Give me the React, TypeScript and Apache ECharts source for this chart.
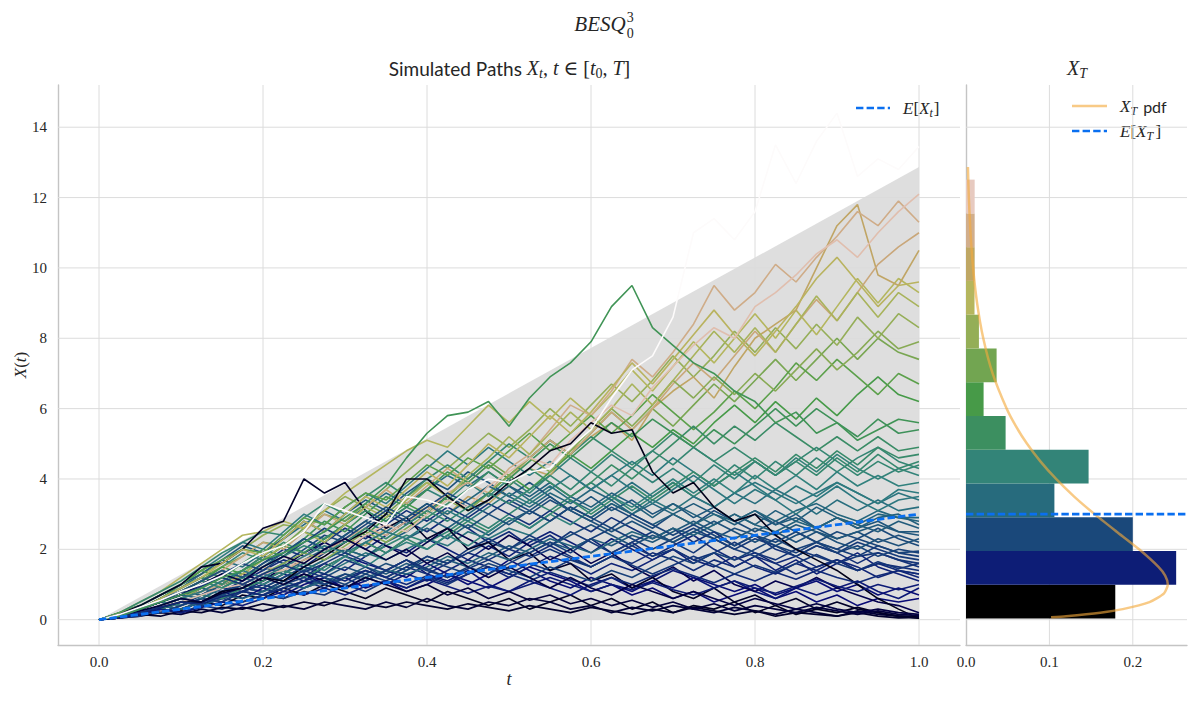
import React, { useEffect, useRef } from 'react';
import * as echarts from 'echarts';

// ---------- data ----------
const TIMES = [0,0.025,0.05,0.075,0.1,0.125,0.15,0.175,0.2,0.225,0.25,0.275,0.3,0.325,0.35,0.375,0.4,0.425,0.45,0.475,0.5,0.525,0.55,0.575,0.6,0.625,0.65,0.675,0.7,0.725,0.75,0.775,0.8,0.825,0.85,0.875,0.9,0.925,0.95,0.975,1];

const P_K1 = [0,0.1,0.2,0.4,0.3,0.5,0.4,0.7,0.6,0.9,0.7,1.0,0.8,0.6,0.9,0.7,0.5,0.8,0.6,0.4,0.6,0.3,0.5,0.7,0.4,0.6,0.3,0.5,0.2,0.4,0.3,0.5,0.2,0.4,0.15,0.3,0.2,0.35,0.2,0.1,0.04];
const P_K2 = [0,0.15,0.4,0.7,1.0,1.5,1.6,2.0,2.6,2.8,4.0,3.6,3.9,3.1,2.6,2.9,2.3,2.6,2.0,2.2,1.7,1.9,1.4,1.6,1.1,1.3,0.9,1.2,0.8,0.6,0.9,0.5,0.7,0.4,0.6,0.3,0.5,0.3,0.2,0.1,0.05];
const P_K3 = [0,0.05,0.2,0.35,0.5,0.5,0.8,0.9,1.2,1.1,1.5,1.8,2.2,2.5,3.0,4.0,4.0,3.5,3.1,3.4,3.9,4.3,4.8,5.0,5.6,5.3,5.4,4.2,3.6,3.9,3.2,2.8,3.0,2.4,2.0,1.7,1.4,1.0,0.6,0.3,0.03];
const P_K4 = [0,0.05,0.2,0.3,0.5,0.4,0.7,0.9,0.8,1.1,1.3,1.0,1.2,0.9,1.1,0.8,1.0,1.3,1.1,0.9,1.2,1.5,1.3,1.1,0.8,1.0,0.7,0.9,0.6,0.8,0.5,0.7,0.9,0.6,0.8,0.5,0.7,0.4,0.6,0.5,0.6];
const P_K5 = [0,0.1,0.3,0.2,0.4,0.6,0.5,0.8,1.0,1.3,1.1,1.5,1.8,1.6,1.4,1.7,1.3,1.1,1.4,1.0,0.8,1.1,0.9,0.7,1.0,1.2,0.9,1.1,1.4,1.2,0.9,1.1,0.8,0.6,0.9,0.7,0.9,1.1,0.8,0.6,0.9];
const P_K6 = [0,0.05,0.1,0.2,0.15,0.3,0.2,0.35,0.25,0.4,0.3,0.5,0.4,0.3,0.5,0.35,0.6,0.4,0.3,0.5,0.4,0.6,0.5,0.3,0.4,0.2,0.35,0.25,0.4,0.3,0.2,0.35,0.25,0.15,0.3,0.2,0.1,0.25,0.15,0.1,0.1];
const P_K7 = [0,0.1,0.3,0.5,0.8,0.7,1.0,1.3,1.1,1.5,1.9,2.2,1.9,2.4,2.1,1.8,2.2,2.6,2.3,2.0,2.4,2.1,1.7,2.0,1.6,1.9,1.5,1.2,1.5,1.1,1.4,1.0,0.8,1.1,0.9,1.2,0.9,0.7,0.5,0.4,0.2];
const P_K8 = [0,0.1,0.2,0.4,0.6,0.5,0.8,0.6,0.9,0.7,1.0,1.2,0.9,1.1,1.4,1.2,1.6,1.3,1.0,1.3,1.7,1.4,1.1,0.9,1.2,1.0,0.8,1.1,0.9,1.2,1.0,0.8,1.0,0.7,0.9,1.1,0.8,1.0,0.7,0.9,0.7];
const P_K9 = [0,0.05,0.15,0.1,0.25,0.2,0.35,0.3,0.45,0.35,0.5,0.4,0.6,0.45,0.35,0.5,0.4,0.3,0.45,0.35,0.25,0.4,0.3,0.2,0.35,0.25,0.15,0.3,0.2,0.35,0.25,0.15,0.25,0.1,0.2,0.15,0.1,0.2,0.1,0.05,0.06];
const P_K10 = [0,0.1,0.25,0.4,0.6,0.5,0.75,0.9,1.2,1.0,1.3,1.1,0.9,1.2,1.0,0.8,1.0,0.7,0.9,0.6,0.8,0.55,0.7,0.45,0.6,0.4,0.55,0.35,0.5,0.3,0.45,0.25,0.4,0.3,0.2,0.35,0.25,0.15,0.25,0.15,0.12];
const P_K11 = [0,0.1,0.3,0.5,0.7,1.0,1.3,1.1,1.5,1.8,1.6,2.0,2.3,2.0,1.7,2.0,1.6,1.9,1.5,1.2,1.5,1.2,0.9,1.2,0.9,0.7,1.0,0.8,0.6,0.8,0.6,0.4,0.6,0.45,0.3,0.45,0.3,0.2,0.3,0.2,0.15];

const P_N1 = [0,0.1,0.3,0.5,0.4,0.7,0.9,0.8,1.1,1.4,1.2,1.6,1.4,1.8,2.1,1.9,2.3,2.0,1.7,2.1,1.8,2.2,2.5,2.2,1.9,2.3,2.0,1.7,2.0,1.6,1.9,1.5,1.8,1.4,1.7,1.3,1.6,1.9,1.5,1.3,1.1];
const P_N2 = [0,0.05,0.2,0.3,0.2,0.4,0.6,0.5,0.7,0.6,0.9,1.1,0.9,1.2,1.0,1.3,1.1,1.4,1.7,1.5,1.2,1.5,1.8,1.6,1.3,1.6,1.4,1.7,2.0,1.7,1.5,1.8,1.5,1.3,1.6,1.4,1.7,1.5,1.2,1.4,1.2];
const P_N3 = [0,0.1,0.2,0.4,0.6,0.9,0.8,1.1,1.4,1.7,1.5,1.9,2.3,2.0,2.4,2.8,2.5,2.9,2.6,2.2,2.5,2.1,2.4,2.0,2.3,1.9,2.2,1.8,2.1,2.4,2.0,1.7,1.9,1.6,1.8,1.5,1.7,1.4,1.6,1.4,1.3];
const P_N4 = [0,0.1,0.2,0.3,0.5,0.7,0.6,0.8,1.0,0.8,1.1,0.9,1.2,1.4,1.2,1.5,1.3,1.6,1.9,1.7,2.0,1.8,2.1,1.8,1.5,1.8,1.6,1.9,1.7,1.4,1.7,1.5,1.8,1.6,1.3,1.5,1.7,1.4,1.6,1.5,1.4];
const P_N5 = [0,0.1,0.3,0.6,0.8,1.1,1.4,1.2,1.6,2.0,1.8,2.2,2.6,2.3,2.7,3.1,2.8,3.2,2.9,3.3,3.0,2.7,3.1,2.8,2.5,2.9,2.6,2.3,2.6,2.2,2.5,2.1,2.4,2.0,1.8,2.1,1.9,1.6,1.9,1.7,1.5];
const P_N6 = [0,0.05,0.1,0.3,0.2,0.4,0.3,0.5,0.7,0.6,0.8,0.7,1.0,0.8,1.1,0.9,1.2,1.0,1.3,1.5,1.3,1.6,1.4,1.7,1.5,1.8,2.1,1.8,2.0,1.7,1.9,2.2,1.9,1.7,2.0,1.8,1.6,1.8,1.9,1.7,1.6];
const P_N7 = [0,0.1,0.2,0.4,0.3,0.5,0.8,1.0,0.9,1.2,1.5,1.3,1.7,1.5,1.2,1.5,1.8,1.6,2.0,2.3,2.0,2.4,2.1,2.5,2.2,1.9,2.2,2.5,2.2,1.9,2.3,2.0,2.3,2.1,1.8,2.1,1.9,2.2,2.0,1.8,1.7];
const P_N8 = [0,0.1,0.3,0.2,0.4,0.6,0.5,0.8,0.7,1.0,1.2,1.0,1.3,1.1,1.4,1.7,1.4,1.2,1.5,1.3,1.6,1.9,2.2,1.9,2.3,2.6,2.3,2.0,2.3,2.6,2.3,2.0,1.8,2.1,1.9,2.2,2.0,1.8,2.1,1.9,1.8];
const P_N9 = [0,0.1,0.2,0.4,0.6,0.5,0.7,1.0,1.3,1.1,1.4,1.2,1.0,1.3,1.1,1.4,1.7,1.5,1.3,1.6,1.4,1.2,1.5,1.3,1.1,1.4,1.2,1.5,1.8,1.6,1.9,1.7,2.0,2.3,2.0,2.2,1.9,2.1,1.8,2.0,1.9];
const P_N10 = [0,0.1,0.3,0.5,0.7,1.0,1.3,1.6,1.4,1.8,2.2,2.6,2.3,2.7,3.1,2.8,3.2,3.6,3.3,3.0,3.4,3.1,2.8,3.2,2.9,2.6,3.0,2.7,2.4,2.7,2.4,2.1,2.4,2.2,2.5,2.2,2.0,2.3,2.1,1.9,1.95];
const P_N11 = [0,0.05,0.15,0.3,0.2,0.35,0.5,0.4,0.6,0.8,0.7,0.9,0.7,0.95,1.1,0.9,1.15,0.95,0.75,0.95,0.8,1.0,1.2,1.0,0.8,1.0,0.85,1.05,0.85,0.7,0.9,1.1,0.9,0.75,0.95,1.15,0.95,0.8,1.0,0.85,1.0];
const P_N12 = [0,0.1,0.2,0.35,0.5,0.45,0.65,0.8,0.7,0.9,1.1,1.3,1.1,1.4,1.2,1.0,1.25,1.05,1.3,1.5,1.3,1.1,1.35,1.15,0.95,1.2,1.0,1.25,1.45,1.25,1.05,1.3,1.1,1.35,1.15,1.4,1.2,1.05,1.25,1.4,1.3];
const P_N13 = [0,0.1,0.3,0.5,0.7,0.95,1.2,1.0,1.3,1.55,1.35,1.6,1.9,1.65,1.4,1.7,1.45,1.2,1.45,1.7,1.45,1.75,2.0,1.75,1.5,1.8,1.55,1.3,1.55,1.8,1.55,1.3,1.55,1.35,1.6,1.85,1.6,1.4,1.65,1.45,1.6];

const P_D1 = [0,0.1,0.3,0.6,0.9,1.2,1.0,1.4,1.8,1.6,2.0,2.4,2.2,2.6,3.0,2.7,3.1,3.5,3.2,3.6,3.3,3.0,3.4,3.1,2.8,3.2,2.9,2.6,3.0,2.7,3.1,2.8,2.5,2.8,2.5,2.2,2.5,2.3,2.6,2.3,2.1];
const P_D2 = [0,0.1,0.2,0.4,0.3,0.5,0.7,0.9,0.8,1.1,0.9,1.2,1.5,1.3,1.6,1.4,1.8,1.6,1.9,2.2,2.0,2.3,2.1,2.4,2.7,2.4,2.1,2.4,2.2,2.5,2.3,2.6,2.4,2.1,2.4,2.6,2.3,2.5,2.2,2.4,2.2];
const P_D3 = [0,0.2,0.4,0.7,1.0,1.3,1.7,2.1,1.9,2.3,2.8,2.5,3.0,3.4,3.1,3.6,4.0,3.7,4.2,3.9,3.5,3.9,3.5,3.1,3.5,3.1,3.4,3.0,3.3,2.9,3.2,2.8,3.1,2.7,3.0,2.6,2.9,2.6,2.8,2.5,2.4];
const P_D4 = [0,0.1,0.2,0.3,0.5,0.4,0.6,0.8,0.7,0.9,1.1,1.0,1.2,1.5,1.3,1.6,1.4,1.7,1.5,1.8,2.1,1.9,2.2,2.0,2.3,2.1,2.4,2.2,2.5,2.8,2.5,2.3,2.6,2.4,2.7,2.5,2.3,2.5,2.7,2.5,2.5];
const P_D5 = [0,0.1,0.3,0.5,0.8,0.7,1.0,1.2,1.5,1.3,1.7,2.0,1.8,2.2,1.9,2.3,2.6,2.3,2.7,2.4,2.8,3.1,2.8,3.2,2.9,3.3,3.0,2.7,3.0,3.3,3.0,2.7,3.0,2.7,2.9,2.6,2.9,2.7,2.5,2.8,2.6];
const P_D6 = [0,0.1,0.2,0.4,0.6,0.9,0.7,1.0,1.3,1.1,1.4,1.7,2.0,1.8,2.2,2.5,2.9,2.6,3.0,3.4,3.8,3.5,3.9,3.5,3.2,3.6,3.3,2.9,3.3,3.0,2.7,3.0,2.7,3.1,2.8,3.2,2.9,2.6,2.9,3.0,2.7];
const P_D7 = [0,0.1,0.2,0.4,0.3,0.5,0.7,0.6,0.8,1.0,0.9,1.1,1.3,1.2,1.4,1.3,1.5,1.8,1.6,1.9,1.7,2.0,2.3,2.1,1.9,2.2,2.5,2.3,2.6,2.4,2.7,3.0,2.7,2.5,2.8,2.6,2.9,2.7,3.0,2.9,2.8];
const P_D8 = [0,0.1,0.3,0.5,0.7,0.6,0.9,1.2,1.5,1.9,2.3,2.0,2.4,2.8,2.5,2.9,3.3,3.0,3.4,3.8,3.5,3.2,3.6,3.3,3.7,3.4,3.0,3.3,3.0,2.7,3.0,2.8,3.1,2.8,3.1,3.3,3.0,2.8,3.1,2.9,2.9];
const P_D9 = [0,0.1,0.3,0.5,0.8,1.1,1.4,1.2,1.6,1.9,2.3,2.0,2.4,2.8,3.2,2.9,3.3,2.9,2.6,3.0,2.7,3.1,3.5,3.1,2.8,2.5,2.8,2.5,2.2,2.5,2.8,2.5,2.2,2.5,2.2,2.5,2.2,2.0,2.3,2.1,2.3];

const P_T1 = [0,0.1,0.3,0.6,0.9,1.3,1.7,1.5,1.9,2.3,2.7,3.1,2.8,3.2,3.6,3.3,3.7,4.1,3.8,4.2,3.8,3.4,3.8,3.4,3.1,3.5,3.9,3.5,3.9,3.5,3.2,3.6,3.3,3.7,3.4,3.0,3.4,3.1,3.4,3.1,3.2];
const P_T2 = [0,0.1,0.2,0.4,0.6,0.5,0.8,1.0,0.9,1.2,1.5,1.3,1.6,1.9,1.7,2.0,2.3,2.1,2.5,2.3,2.6,2.4,2.8,3.2,2.9,3.3,3.0,3.4,3.1,3.5,3.2,3.6,3.9,3.6,3.3,3.6,3.9,3.6,3.3,3.6,3.4];
const P_T3 = [0,0.2,0.4,0.7,1.0,1.4,1.8,2.2,2.0,2.5,3.0,2.7,3.2,3.6,3.3,3.8,4.3,4.8,4.4,4.9,4.5,4.1,4.5,4.1,3.7,4.1,4.5,4.1,4.6,4.2,3.8,4.2,3.8,3.4,3.8,3.5,3.9,3.6,3.3,3.7,3.6];
const P_T4 = [0,0.1,0.3,0.5,0.4,0.6,0.9,1.2,1.0,1.3,1.6,1.4,1.8,1.5,1.9,2.2,2.0,2.4,2.1,2.5,2.9,2.6,3.0,2.7,3.1,3.5,3.2,3.6,4.0,3.6,4.0,3.6,4.1,3.7,4.1,3.7,4.2,3.8,4.1,3.8,3.9];
const P_T5 = [0,0.1,0.2,0.4,0.6,0.8,1.1,1.4,1.2,1.5,1.8,2.1,1.9,2.2,2.5,2.3,2.7,3.1,2.8,3.2,3.6,3.3,3.7,4.1,3.7,4.1,3.7,3.3,3.7,4.1,3.7,3.3,3.7,3.4,3.0,3.4,3.8,3.4,3.1,3.4,3.5];

const P_G1 = [0,0.1,0.3,0.5,0.8,1.1,1.5,1.9,1.7,2.1,2.5,2.3,2.7,3.1,2.8,3.2,3.7,3.4,3.9,3.5,4.0,3.6,4.1,4.6,4.2,4.7,4.3,3.9,4.3,3.9,4.4,4.0,4.5,4.1,4.6,4.2,4.7,4.3,4.0,4.3,4.1];
const P_G2 = [0,0.1,0.2,0.4,0.6,0.8,1.1,1.0,1.3,1.6,1.4,1.7,2.0,1.8,2.1,2.4,2.2,2.5,2.9,2.6,3.0,3.4,3.1,3.5,3.9,3.5,3.1,3.5,3.9,3.5,3.9,4.4,4.0,4.5,4.1,4.6,4.2,4.6,4.9,4.5,4.3];
const P_G3 = [0,0.2,0.5,0.8,1.1,1.5,1.9,2.2,2.5,2.4,2.9,3.3,3.0,3.5,3.9,3.5,4.0,4.4,4.0,4.5,5.0,4.6,5.1,4.7,5.2,4.8,4.4,4.8,5.3,4.9,4.5,4.9,4.5,4.1,4.5,4.1,4.6,4.2,4.7,4.3,4.5];
const P_G4 = [0,0.1,0.2,0.3,0.5,0.7,0.6,0.9,1.1,1.4,1.2,1.5,1.8,2.2,1.9,2.3,2.0,2.4,2.8,2.5,2.9,2.6,3.0,3.4,3.0,3.4,3.8,3.4,3.8,4.2,3.8,4.2,4.6,4.2,4.7,4.3,4.8,4.4,4.9,4.6,4.7];
const P_G5 = [0,0.1,0.3,0.6,0.9,1.2,1.0,1.4,1.8,2.2,1.9,2.3,2.7,3.1,2.8,3.2,2.9,3.3,3.7,4.2,3.8,4.3,3.9,3.5,3.9,4.4,4.0,4.5,5.0,5.5,5.0,5.5,5.1,5.6,5.2,4.8,5.2,4.8,5.2,4.8,4.9];
const P_G6 = [0,0.1,0.3,0.5,0.8,1.1,0.9,1.2,1.5,1.8,2.1,1.9,2.2,2.6,2.3,2.7,3.1,2.8,3.2,3.6,3.3,3.7,4.1,3.7,4.2,3.8,4.3,4.8,4.4,4.9,4.5,4.1,4.5,4.1,4.5,4.9,4.5,4.1,4.5,4.2,4.4];
const P_GPK = [0,0.1,0.3,0.5,0.7,0.9,1.2,1.4,1.7,1.9,2.2,2.5,2.9,3.3,3.8,4.6,5.3,5.8,5.9,6.2,5.5,6.3,6.9,7.3,7.9,8.9,9.5,8.3,7.8,7.3,7.0,6.5,6.2,5.6,5.9,5.3,5.6,5.1,5.4,5.7,5.6];
const P_GB = [0,0.1,0.3,0.6,1.0,1.4,1.2,1.6,2.0,1.8,2.3,2.8,2.5,3.0,3.5,3.2,3.7,4.2,3.9,4.4,4.0,4.5,5.0,4.6,5.1,5.6,5.2,5.7,5.3,4.9,5.4,5.0,5.5,6.0,5.5,6.0,5.6,5.2,5.7,5.3,5.4];
const P_BG1 = [0,0.1,0.3,0.5,0.8,1.1,1.5,1.3,1.7,2.1,1.9,2.3,2.7,2.4,2.9,3.3,3.0,3.5,3.1,3.6,4.1,3.7,4.2,4.7,4.3,4.8,5.3,4.9,5.4,5.0,5.6,6.1,5.6,6.2,5.7,6.3,5.8,6.4,6.9,6.4,6.2];
const P_BG2 = [0,0.2,0.4,0.7,1.0,1.4,1.7,2.0,1.9,2.4,2.9,2.7,3.2,3.6,3.4,3.9,4.4,4.1,4.6,4.3,4.8,5.3,4.8,5.3,5.8,5.3,5.8,6.4,5.9,5.4,5.9,6.5,6.0,6.6,7.3,6.8,7.4,6.9,6.4,7.0,6.7];
const P_YG1 = [0,0.1,0.3,0.6,0.9,1.2,1.5,1.8,2.2,2.1,2.6,3.0,2.8,3.3,3.0,3.5,3.9,3.5,4.0,4.5,4.1,4.6,5.1,4.7,5.3,5.9,5.4,6.0,5.5,6.1,6.7,6.2,6.8,7.4,6.8,7.4,8.0,7.4,8.0,7.6,7.4];
const P_YG2 = [0,0.1,0.2,0.4,0.6,0.9,1.2,1.0,1.3,1.6,1.9,1.7,2.1,2.5,2.2,2.6,3.0,3.4,3.1,3.6,4.1,4.6,4.2,4.8,5.4,6.0,5.5,6.1,6.8,6.3,6.9,6.4,7.0,6.5,7.1,7.7,7.1,7.6,8.2,7.7,7.9];
const P_O1 = [0,0.2,0.4,0.7,1.0,1.3,1.6,2.0,2.4,2.7,2.6,3.1,3.5,3.2,3.7,4.2,4.7,4.3,4.8,5.3,4.9,5.4,6.0,5.5,6.1,6.7,6.2,6.8,7.5,6.9,7.5,8.2,7.6,8.3,7.7,8.4,7.8,8.6,8.0,8.7,8.3];
const P_O2 = [0,0.1,0.3,0.5,0.8,1.1,0.9,1.3,1.7,2.1,2.5,2.2,2.7,3.2,2.9,3.4,3.9,3.5,4.1,4.6,5.2,4.7,5.3,5.9,5.4,6.0,6.7,6.1,6.8,7.5,8.2,7.6,8.3,7.6,8.4,9.2,8.5,9.3,8.6,9.3,8.9];
const P_KH1 = [0,0.2,0.5,0.8,1.2,1.6,2.0,2.4,2.5,2.8,2.6,3.1,3.6,4.0,4.4,4.8,5.1,4.9,5.5,6.1,5.6,6.2,5.7,6.3,5.8,6.4,7.1,6.5,7.2,7.9,7.3,8.0,8.7,8.0,8.8,8.1,8.9,9.7,9.0,9.7,9.3];
const P_KH2 = [0,0.1,0.3,0.6,0.9,1.2,1.6,2.0,1.8,2.3,2.8,2.5,3.0,3.5,3.2,3.7,4.2,3.8,4.4,5.0,4.6,5.2,5.8,5.3,5.9,6.6,7.3,6.7,7.4,8.1,8.8,8.1,7.5,8.2,8.9,9.7,10.3,9.6,8.9,9.5,9.6];
const P_TAN = [0,0.1,0.3,0.5,0.7,0.8,1.1,1.2,1.5,1.8,1.6,2.0,2.3,2.1,2.6,2.9,3.2,3.0,3.5,3.3,3.8,4.3,4.1,4.8,5.2,5.6,5.1,6.0,6.5,6.9,6.3,7.2,8.0,8.4,8.8,10.0,11.2,11.8,9.8,9.5,10.5];
const P_PINKD = [0,0.1,0.3,0.5,0.8,1.1,1.4,1.8,2.2,2.0,2.5,3.0,2.7,3.2,3.7,3.3,3.8,4.3,3.9,4.4,4.0,4.6,5.1,4.7,5.3,5.9,5.4,6.0,6.7,7.3,6.8,7.5,8.2,7.6,8.4,9.1,8.5,9.3,10.1,10.6,11.0];
const P_ORANGE = [0,0.1,0.2,0.4,0.6,0.8,1.0,1.3,1.5,1.4,1.7,1.9,2.3,2.6,2.4,2.8,3.1,3.6,3.9,3.6,4.3,4.7,5.4,6.1,5.8,6.5,7.4,6.9,7.6,8.4,9.5,8.8,9.3,10.1,9.6,10.3,10.9,11.6,11.2,11.9,11.3];
const P_PINKB = [0,0.05,0.2,0.4,0.5,0.7,0.9,1.0,1.3,1.4,1.8,2.1,2.0,2.4,2.7,2.5,3.0,3.4,3.2,3.8,4.2,4.6,4.4,5.1,5.6,6.1,5.8,6.6,7.2,7.8,8.3,8.0,8.9,9.3,9.8,10.4,10.8,10.3,11.0,11.6,12.1];
const P_WHITE = [0,0.15,0.35,0.55,0.8,1.0,1.25,1.6,1.9,2.1,2.5,3.3,3.1,2.9,2.7,3.5,3.4,3.2,3.7,4.0,3.9,4.2,4.3,4.9,5.4,6.3,7.1,7.5,8.6,11.0,11.4,10.8,11.6,13.5,12.4,13.6,14.4,12.6,13.1,12.8,13.45];

const PATHS = [
  P_N1, P_G1, P_K4, P_D1, P_T1, P_N2, P_YG1, P_K1, P_D2, P_O1,
  P_N3, P_G2, P_K5, P_D3, P_KH1, P_N4, P_T2, P_TAN, P_K6, P_D4,
  P_BG1, P_N5, P_G3, P_PINKD, P_K7, P_D5, P_T3, P_N6, P_GB, P_ORANGE,
  P_K8, P_D6, P_BG2, P_N7, P_G4, P_YG2, P_K2, P_D7, P_T4, P_N8,
  P_G5, P_O2, P_KH2, P_N9, P_D8, P_PINKB, P_K3, P_N10, P_G6, P_K9,
  P_N11, P_D9, P_T5, P_K10, P_N12, P_K11, P_N13, P_GPK, P_WHITE,
];

const MEAN_T = [0, 1];
const MEAN_X = [0, 3];
const FINAL_MEAN = 3;
const BAND_T = [0, 1];
const BAND_UPPER = [0, 12.87];

const BIN_EDGES = [0.03, 0.99, 1.95, 2.91, 3.87, 4.83, 5.79, 6.75, 7.71, 8.67, 9.63, 10.59, 11.55, 12.51];
const BIN_DENSITY = [0.179, 0.252, 0.200, 0.106, 0.147, 0.0475, 0.0211, 0.0367, 0.0155, 0.0102, 0.0104, 0.0104, 0.0104];

const PDF_X = [0.07, 0.1, 0.2, 0.3, 0.5, 0.75, 1.0, 1.25, 1.5, 2.0, 2.5, 3.0, 3.5, 4.0, 4.5, 5.0, 5.5, 6.0, 7.0, 8.0, 9.0, 10.0, 11.0, 12.0, 12.87];
const PDF_D = [0.102, 0.120, 0.161, 0.188, 0.220, 0.2375, 0.242, 0.2388, 0.2308, 0.2076, 0.1807, 0.1542, 0.1297, 0.108, 0.0892, 0.0732, 0.0598, 0.0487, 0.0319, 0.0207, 0.0133, 0.0085, 0.0054, 0.0034, 0.0023];

const X_TICKS = [0, 0.2, 0.4, 0.6, 0.8, 1.0];
const XR_TICKS = [0, 0.1, 0.2];
const Y_TICKS = [0, 2, 4, 6, 8, 10, 12, 14];

const X_MIN = -0.05, X_MAX = 1.05;
const XR_MIN = 0, XR_MAX = 0.265;
const Y_MIN = -0.72, Y_MAX = 15.2;

// ---------- style ----------
const SERIF = "'Liberation Serif', 'DejaVu Serif', serif";
const SANS = "Lato, 'Noto Sans', sans-serif";
const TXT = '#262626';
const BLUE = '#0a6ff0';
const GRIDC = '#dcdcdc';
const SPINE = '#c4c4c4';
const DASH = [7.4, 3.2];
const PDF_COLOR = 'rgba(243,170,60,0.62)';

// gist_earth colormap segments
const CM_R = [[0,0],[0.2824,0.1882],[0.4588,0.2714],[0.549,0.4719],[0.698,0.7176],[0.7882,0.7553],[1,0.9922]];
const CM_G = [[0,0],[0.0275,0],[0.1098,0.1893],[0.1647,0.3035],[0.2078,0.3841],[0.2824,0.502],[0.5216,0.6397],[0.698,0.7171],[0.7882,0.6392],[0.7922,0.6413],[0.8,0.6447],[0.8078,0.6481],[0.8157,0.6549],[0.8667,0.6991],[0.8745,0.7103],[0.8824,0.7216],[0.8902,0.7323],[0.898,0.743],[0.9412,0.8275],[0.9569,0.8635],[0.9647,0.8816],[0.9961,0.9733],[1,0.9843]];
const CM_B = [[0,0],[0.0039,0.1684],[0.0078,0.2212],[0.0275,0.4329],[0.0314,0.4549],[0.2824,0.5004],[0.4667,0.2748],[0.5451,0.3205],[0.7843,0.3961],[0.8941,0.6651],[1,0.9843]];

function interp(stops: number[][], v: number) {
  for (let i = 1; i < stops.length; i++) {
    if (v <= stops[i][0]) {
      const [x0, y0] = stops[i - 1];
      const [x1, y1] = stops[i];
      return y0 + ((y1 - y0) * (v - x0)) / (x1 - x0 || 1);
    }
  }
  return stops[stops.length - 1][1];
}
function gistEarth(v: number) {
  const c = Math.max(0, Math.min(1, v));
  const rgb = [CM_R, CM_G, CM_B].map((s) => Math.round(255 * interp(s, c)));
  return `rgb(${rgb.join(',')})`;
}

type Piece = { t: string; fam?: string; it?: boolean; s: number; dy?: number; dx?: number; stack?: boolean };

let measureCtx: CanvasRenderingContext2D | null = null;
function textWidth(t: string, font: string) {
  if (!measureCtx) measureCtx = document.createElement('canvas').getContext('2d');
  if (!measureCtx) return t.length * 8;
  measureCtx.font = font;
  return measureCtx.measureText(t).width;
}

function mathRow(pieces: Piece[], x: number, baseline: number, align: 'left' | 'center', extra: any = {}) {
  let cursor = 0;
  let prevStart = 0;
  const items = pieces.map((p) => {
    const font = `${p.it ? 'italic ' : ''}${p.s}px ${p.fam || SERIF}`;
    const w = textWidth(p.t, font);
    let px: number;
    if (p.stack) {
      px = prevStart;
      cursor = Math.max(cursor, prevStart + w);
    } else {
      cursor += p.dx || 0;
      px = cursor;
      prevStart = cursor;
      cursor += w;
    }
    return { p, font, px };
  });
  const off = align === 'center' ? -cursor / 2 : 0;
  return {
    type: 'group',
    x,
    y: baseline,
    silent: true,
    ...extra,
    children: items.map(({ p, font, px }) => ({
      type: 'text',
      x: off + px,
      y: (p.dy || 0) - 0.34 * p.s,
      style: { text: p.t, font, fill: TXT, align: 'left', verticalAlign: 'middle' },
    })),
  };
}

const near = (arr: number[], v: number) => arr.some((t) => Math.abs(t - v) < 1e-6);

function gridLine(axis: number, data: number[][]) {
  return {
    type: 'line', xAxisIndex: axis, yAxisIndex: axis, z: 1, silent: true, symbol: 'none',
    data, lineStyle: { color: GRIDC, width: 1 },
  };
}

export default function App() {
  const ref = useRef<HTMLDivElement>(null);

  useEffect(() => {
    document.body.style.margin = '0';
    if (!ref.current) return;
    const chart = echarts.init(ref.current, undefined, { renderer: 'svg' });

    const finals = PATHS.map((p) => p[p.length - 1]);
    const maxFinal = Math.max(...finals);

    const pathSeries = PATHS.map((p, k) => ({
      type: 'line',
      xAxisIndex: 0,
      yAxisIndex: 0,
      data: p.map((v, i) => [TIMES[i], v]).filter((d) => d[0] !== undefined),
      symbol: 'none',
      silent: true,
      z: 3,
      lineStyle: { width: 1.6, color: gistEarth(finals[k] / maxFinal) },
    }));

    const gridSeries = [
      ...X_TICKS.map((v) => gridLine(0, [[v, Y_MIN], [v, Y_MAX]])),
      ...Y_TICKS.map((v) => gridLine(0, [[X_MIN, v], [X_MAX, v]])),
      ...XR_TICKS.filter((v) => v > 0).map((v) => gridLine(1, [[v, Y_MIN], [v, Y_MAX]])),
      ...Y_TICKS.map((v) => gridLine(1, [[XR_MIN, v], [XR_MAX, v]])),
    ];

    const nb = BIN_DENSITY.length;
    const binColors = BIN_DENSITY.map((_, i) => gistEarth(i / nb));

    const axisLabelBase = { fontFamily: SERIF, fontSize: 15, color: TXT };

    const option: any = {
      animation: false,
      backgroundColor: '#ffffff',
      grid: [
        { left: 58, top: 85, width: 902, height: 560 },
        { left: 966, top: 85, width: 221, height: 560 },
      ],
      xAxis: [
        {
          type: 'value', gridIndex: 0, min: X_MIN, max: X_MAX, splitNumber: 5,
          axisLine: { show: true, onZero: false, lineStyle: { color: SPINE, width: 1.4 } },
          axisTick: { show: false }, splitLine: { show: false },
          axisLabel: { ...axisLabelBase, margin: 9, customValues: X_TICKS,
            formatter: (v: number) => (near(X_TICKS, v) ? v.toFixed(1) : '') },
        },
        {
          type: 'value', gridIndex: 1, min: XR_MIN, max: XR_MAX, splitNumber: 3,
          axisLine: { show: true, onZero: false, lineStyle: { color: SPINE, width: 1.4 } },
          axisTick: { show: false }, splitLine: { show: false },
          axisLabel: { ...axisLabelBase, margin: 9, customValues: XR_TICKS,
            formatter: (v: number) => (near(XR_TICKS, v) ? v.toFixed(1) : '') },
        },
      ],
      yAxis: [
        {
          type: 'value', gridIndex: 0, min: Y_MIN, max: Y_MAX, splitNumber: 8,
          axisLine: { show: true, onZero: false, lineStyle: { color: SPINE, width: 1.4 } },
          axisTick: { show: false }, splitLine: { show: false },
          axisLabel: { ...axisLabelBase, margin: 11, customValues: Y_TICKS,
            formatter: (v: number) => (near(Y_TICKS, v) ? String(Math.round(v)) : '') },
        },
        {
          type: 'value', gridIndex: 1, min: Y_MIN, max: Y_MAX, splitNumber: 8,
          axisLine: { show: true, onZero: false, lineStyle: { color: SPINE, width: 1.4 } },
          axisTick: { show: false }, splitLine: { show: false }, axisLabel: { show: false },
        },
      ],
      series: [
        ...gridSeries,
        {
          type: 'line', xAxisIndex: 0, yAxisIndex: 0, z: 2, silent: true, symbol: 'none',
          data: BAND_T.map((t, i) => [t, BAND_UPPER[i]]),
          lineStyle: { width: 0, opacity: 0 },
          areaStyle: { color: 'rgb(218,218,218)', opacity: 0.9 },
        },
        ...pathSeries,
        {
          type: 'line', xAxisIndex: 0, yAxisIndex: 0, z: 5, silent: true, symbol: 'none',
          data: MEAN_T.map((t, i) => [t, MEAN_X[i]]),
          lineStyle: { width: 2.8, color: BLUE, type: DASH },
        },
        {
          type: 'custom', xAxisIndex: 1, yAxisIndex: 1, z: 2, silent: true,
          data: BIN_DENSITY.map((d, i) => [BIN_EDGES[i], BIN_EDGES[i + 1], d]),
          renderItem: (params: any, api: any) => {
            const lo = api.value(0);
            const hi = api.value(1);
            const d = api.value(2);
            const a = api.coord([0, lo]);
            const b = api.coord([d, hi]);
            return {
              type: 'rect',
              shape: { x: a[0], y: b[1], width: b[0] - a[0], height: a[1] - b[1] },
              style: { fill: binColors[params.dataIndex] },
            };
          },
        },
        {
          type: 'line', xAxisIndex: 1, yAxisIndex: 1, z: 4, silent: true, symbol: 'none', smooth: 0.2,
          data: PDF_D.map((d, i) => [d, PDF_X[i]]),
          lineStyle: { width: 2.5, color: PDF_COLOR },
        },
        {
          type: 'line', xAxisIndex: 1, yAxisIndex: 1, z: 5, silent: true, symbol: 'none',
          data: [[XR_MIN, FINAL_MEAN], [XR_MAX, FINAL_MEAN]],
          lineStyle: { color: BLUE, width: 2.6, type: DASH },
        },
      ],
      graphic: [
        mathRow(
          [
            { t: 'BESQ', it: true, s: 21 },
            { t: '0', s: 14, dy: 7, dx: 1 },
            { t: '3', s: 14, dy: -9, stack: true },
          ],
          604, 31, 'center'
        ),
        mathRow(
          [
            { t: 'Simulated Paths ', fam: SANS, s: 19 },
            { t: 'X', it: true, s: 20 },
            { t: 't', it: true, s: 14, dy: 4 },
            { t: ', ', s: 20 },
            { t: 't', it: true, s: 20 },
            { t: ' ∈ ', s: 20 },
            { t: '[', s: 20 },
            { t: 't', it: true, s: 20 },
            { t: '0', s: 14, dy: 4 },
            { t: ', ', s: 20 },
            { t: 'T', it: true, s: 20 },
            { t: ']', s: 20 },
          ],
          509.5, 74.5, 'center'
        ),
        mathRow(
          [
            { t: 'X', it: true, s: 20 },
            { t: 'T', it: true, s: 14, dy: 4 },
          ],
          1077, 74.5, 'center'
        ),
        mathRow([{ t: 't', it: true, s: 18 }], 509, 685, 'center'),
        {
          type: 'group', x: 20, y: 365, rotation: Math.PI / 2, silent: true,
          children: [
            mathRow(
              [
                { t: 'X', it: true, s: 17 },
                { t: '(', s: 17 },
                { t: 't', it: true, s: 17 },
                { t: ')', s: 17 },
              ],
              0, 5.8, 'center'
            ),
          ],
        },
        // legend: main panel
        { type: 'line', silent: true, shape: { x1: 856, y1: 108, x2: 890, y2: 108 }, style: { stroke: BLUE, lineWidth: 2.6, lineDash: DASH } },
        mathRow(
          [
            { t: 'E', it: true, s: 17 },
            { t: '[', s: 17 },
            { t: 'X', it: true, s: 17 },
            { t: 't', it: true, s: 12, dy: 3 },
            { t: ']', s: 17, dx: 1 },
          ],
          903, 114, 'left'
        ),
        // legend: right panel
        { type: 'line', silent: true, shape: { x1: 1072, y1: 106, x2: 1107, y2: 106 }, style: { stroke: PDF_COLOR, lineWidth: 2.5 } },
        mathRow(
          [
            { t: 'X', it: true, s: 17 },
            { t: 'T', it: true, s: 12, dy: 3 },
            { t: ' pdf', fam: SANS, s: 16, dx: 2 },
          ],
          1120, 112, 'left'
        ),
        { type: 'line', silent: true, shape: { x1: 1072, y1: 131, x2: 1107, y2: 131 }, style: { stroke: BLUE, lineWidth: 2.6, lineDash: DASH } },
        mathRow(
          [
            { t: 'E', it: true, s: 17 },
            { t: '[', s: 17 },
            { t: 'X', it: true, s: 17 },
            { t: 'T', it: true, s: 12, dy: 3 },
            { t: ']', s: 17, dx: 2.5 },
          ],
          1120, 137, 'left'
        ),
      ],
    };

    chart.setOption(option);
    return () => chart.dispose();
  }, []);

  return <div ref={ref} style={{ width: 1200, height: 701 }} />;
}
